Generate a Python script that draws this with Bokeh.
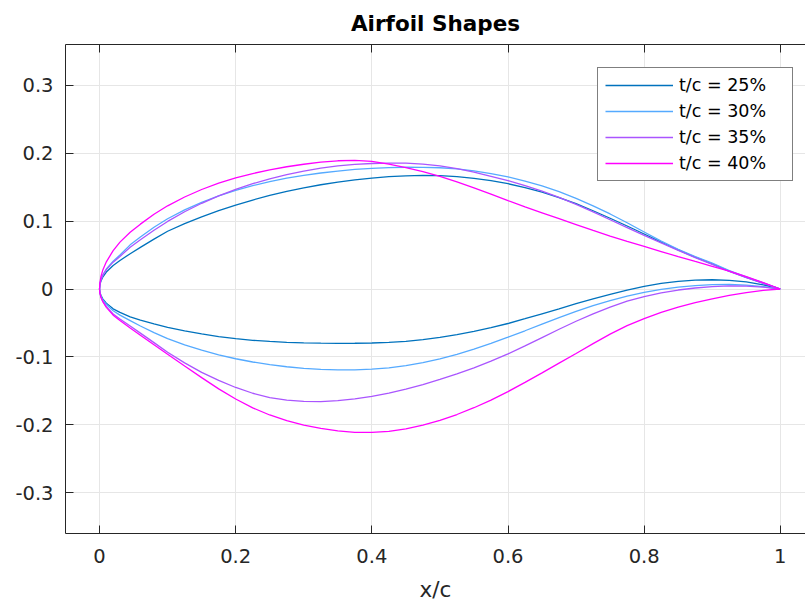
from bokeh.plotting import figure
from bokeh.models import Range1d, LinearAxis, FixedTicker, CustomJSTickFormatter
from bokeh.embed import file_html
from bokeh.resources import INLINE

# chordwise stations (x/c)
x_stations = [0, 0.0005, 0.002, 0.005, 0.01, 0.02, 0.03, 0.045, 0.06, 0.08, 0.1, 0.125, 0.15, 0.175,
              0.2, 0.225, 0.25, 0.275, 0.3, 0.325, 0.35, 0.375, 0.4, 0.425, 0.45, 0.475, 0.5,
              0.525, 0.55, 0.575, 0.6, 0.625, 0.65, 0.675, 0.7, 0.725, 0.75, 0.775, 0.8,
              0.825, 0.85, 0.875, 0.9, 0.925, 0.95, 0.975, 1.0]

upper_25 = [0, 0.006, 0.0115, 0.018, 0.025, 0.0345, 0.042, 0.052, 0.0613, 0.0735, 0.0850, 0.0962, 0.1063, 0.1153,
            0.1235, 0.1310, 0.1378, 0.1438, 0.1490, 0.1535, 0.1574, 0.1607, 0.1634, 0.1654, 0.1667, 0.1672, 0.1670,
            0.1655, 0.1630, 0.1595, 0.1550, 0.1494, 0.1427, 0.1347, 0.1256, 0.1152, 0.1042, 0.0928, 0.0810,
            0.0690, 0.0575, 0.0468, 0.0370, 0.0262, 0.0172, 0.0086, 0]
lower_25 = [0, -0.0047, -0.0093, -0.0148, -0.0208, -0.0292, -0.0345, -0.041, -0.046, -0.0515, -0.0565, -0.0615, -0.066, -0.070,
            -0.073, -0.0755, -0.0772, -0.0785, -0.0793, -0.0798, -0.080, -0.0799, -0.0795, -0.0785, -0.0770, -0.0745, -0.0713,
            -0.0673, -0.0625, -0.0570, -0.0508, -0.0438, -0.0365, -0.0292, -0.0215, -0.0145, -0.0078, -0.0015, 0.0040,
            0.0083, 0.0112, 0.0130, 0.0136, 0.0127, 0.0104, 0.0062, 0]

upper_30 = [0, 0.007, 0.0135, 0.021, 0.0295, 0.041, 0.050, 0.0650, 0.0765, 0.0910, 0.1035, 0.1165, 0.1275, 0.1370,
            0.1452, 0.1522, 0.1582, 0.1632, 0.1674, 0.1708, 0.1737, 0.1760, 0.1777, 0.1788, 0.1793, 0.1792, 0.1785,
            0.1768, 0.1740, 0.1700, 0.1650, 0.1590, 0.1518, 0.1433, 0.1335, 0.1225, 0.1105, 0.0975, 0.0840,
            0.0705, 0.0583, 0.0477, 0.0380, 0.0272, 0.0178, 0.0090, 0]
lower_30 = [0, -0.0051, -0.0102, -0.0162, -0.0228, -0.032, -0.0385, -0.0465, -0.0545, -0.0643, -0.0730, -0.0822, -0.0901, -0.0969,
            -0.1027, -0.1075, -0.1114, -0.1145, -0.1168, -0.1184, -0.1192, -0.1191, -0.1180, -0.1160, -0.1128, -0.1085, -0.1030,
            -0.0962, -0.0885, -0.0800, -0.0710, -0.0615, -0.0518, -0.0422, -0.0330, -0.0245, -0.0170, -0.0105, -0.0050,
            -0.0007, 0.0027, 0.0051, 0.0064, 0.0066, 0.0057, 0.0035, 0]

upper_35 = [0, 0.0065, 0.013, 0.0205, 0.0285, 0.0395, 0.048, 0.0615, 0.0725, 0.0865, 0.0995, 0.1137, 0.1262, 0.1372,
            0.1467, 0.1550, 0.1622, 0.1684, 0.1736, 0.1779, 0.1812, 0.1835, 0.1848, 0.1853, 0.1852, 0.1840, 0.1812,
            0.1772, 0.1722, 0.1660, 0.1595, 0.1522, 0.1440, 0.1348, 0.1245, 0.1135, 0.1020, 0.0905, 0.0790,
            0.0678, 0.0568, 0.0463, 0.0362, 0.0258, 0.0168, 0.0084, 0]
lower_35 = [0, -0.0058, -0.0116, -0.0184, -0.0260, -0.0369, -0.0441, -0.0545, -0.0650, -0.0790, -0.0931, -0.1088, -0.1228, -0.1345,
            -0.1450, -0.1535, -0.1598, -0.1637, -0.1655, -0.1657, -0.1645, -0.1618, -0.1580, -0.1532, -0.1474, -0.1407, -0.1332,
            -0.1250, -0.1160, -0.1062, -0.0955, -0.0838, -0.0715, -0.0593, -0.0475, -0.0365, -0.0268, -0.0180, -0.0112,
            -0.0058, -0.0015, 0.0015, 0.0035, 0.0045, 0.0043, 0.0028, 0]

upper_40 = [0, 0.009, 0.018, 0.0285, 0.040, 0.0565, 0.069, 0.0835, 0.0955, 0.1100, 0.1225, 0.1355, 0.1465, 0.1558,
            0.1635, 0.1700, 0.1755, 0.1800, 0.1837, 0.1868, 0.1888, 0.1893, 0.1878, 0.1838, 0.1788, 0.1728, 0.1658,
            0.1578, 0.1490, 0.1397, 0.1302, 0.1210, 0.1122, 0.1035, 0.0948, 0.0862, 0.0780, 0.0702, 0.0627,
            0.0552, 0.0478, 0.0405, 0.0333, 0.0262, 0.0182, 0.0094, 0]
lower_40 = [0, -0.006, -0.012, -0.019, -0.027, -0.0385, -0.0465, -0.0575, -0.068, -0.082, -0.096, -0.1135, -0.1305, -0.147,
            -0.1620, -0.1750, -0.1855, -0.1938, -0.2003, -0.2053, -0.2090, -0.2110, -0.2112, -0.2095, -0.2058, -0.2003, -0.1933,
            -0.1848, -0.1748, -0.1635, -0.1510, -0.1375, -0.1235, -0.1092, -0.0950, -0.0805, -0.0665, -0.0540, -0.0435,
            -0.0345, -0.0268, -0.0202, -0.0145, -0.0095, -0.0052, -0.0020, 0]

series_labels = ["t/c = 25%", "t/c = 30%", "t/c = 35%", "t/c = 40%"]
series_upper = [upper_25, upper_30, upper_35, upper_40]
series_lower = [lower_25, lower_30, lower_35, lower_40]
colors = ["#0072BD", "#55AAFF", "#AA55FF", "#FF00FF"]

x_ticks = [0, 0.2, 0.4, 0.6, 0.8, 1.0]
y_ticks = [-0.3, -0.2, -0.1, 0, 0.1, 0.2, 0.3]

FONT = "DejaVu Sans"
AX = "#262626"

p = figure(width=805, height=604, output_backend="svg", toolbar_location=None,
           x_range=Range1d(-0.05, 1.037), y_range=Range1d(-0.36, 0.36),
           min_border_left=65, min_border_right=0, min_border_top=43, min_border_bottom=71)
p.outline_line_color = None
p.background_fill_color = "white"
p.border_fill_color = "white"

p.title.text = "Airfoil Shapes"
p.title.align = "center"
p.title.text_font = FONT
p.title.text_font_size = "21.5px"
p.title.text_font_style = "bold"
p.title.text_color = "black"
p.title.standoff = 17

fmt = CustomJSTickFormatter(code="return (Math.round(tick*10)/10).toString();")

bottom = p.below[0]
left = p.left[0]

bottom.ticker = FixedTicker(ticks=x_ticks)
bottom.formatter = fmt
bottom.axis_label = "x/c"
left.ticker = FixedTicker(ticks=y_ticks)
left.formatter = fmt

top = LinearAxis(ticker=FixedTicker(ticks=x_ticks), major_label_text_font_size="0px",
                 major_label_text_alpha=0, major_label_standoff=0)
p.add_layout(top, "above")

for ax in [bottom, left, top]:
    ax.axis_line_color = AX
    ax.axis_line_width = 1
    ax.major_tick_line_color = AX
    ax.major_tick_in = 8
    ax.major_tick_out = 0
    ax.minor_tick_line_color = None
    ax.major_label_text_color = AX
    ax.major_label_text_font = FONT

for ax in [bottom, left]:
    ax.major_label_text_font_size = "19.5px"
left.major_label_standoff = 12
bottom.major_label_standoff = 15

bottom.axis_label_text_font = FONT
bottom.axis_label_text_font_size = "21.5px"
bottom.axis_label_text_font_style = "normal"
bottom.axis_label_text_color = AX
bottom.axis_label_standoff = 11

p.xgrid.ticker = FixedTicker(ticks=x_ticks)
p.ygrid.ticker = FixedTicker(ticks=y_ticks)
for g in [p.xgrid[0], p.ygrid[0]]:
    g.grid_line_color = "#E6E6E6"
    g.grid_line_width = 1

for lab, up, lo, col in zip(series_labels, series_upper, series_lower, colors):
    xs = list(reversed(x_stations)) + x_stations[1:]
    ys = list(reversed(up)) + lo[1:]
    p.line(xs, ys, line_color=col, line_width=1.3, legend_label=lab)

lg = p.legend[0]
lg.location = (532, 352)
lg.border_line_color = "black"
lg.border_line_width = 1
lg.background_fill_color = "white"
lg.background_fill_alpha = 1
lg.label_text_font = FONT
lg.label_text_font_size = "17.5px"
lg.label_text_color = "black"
lg.glyph_width = 68
lg.glyph_height = 20
lg.label_height = 20
lg.label_width = 106
lg.label_standoff = 6
lg.spacing = 6
lg.padding = 7
lg.margin = 0

open("out.html", "w").write(file_html(p, INLINE))
